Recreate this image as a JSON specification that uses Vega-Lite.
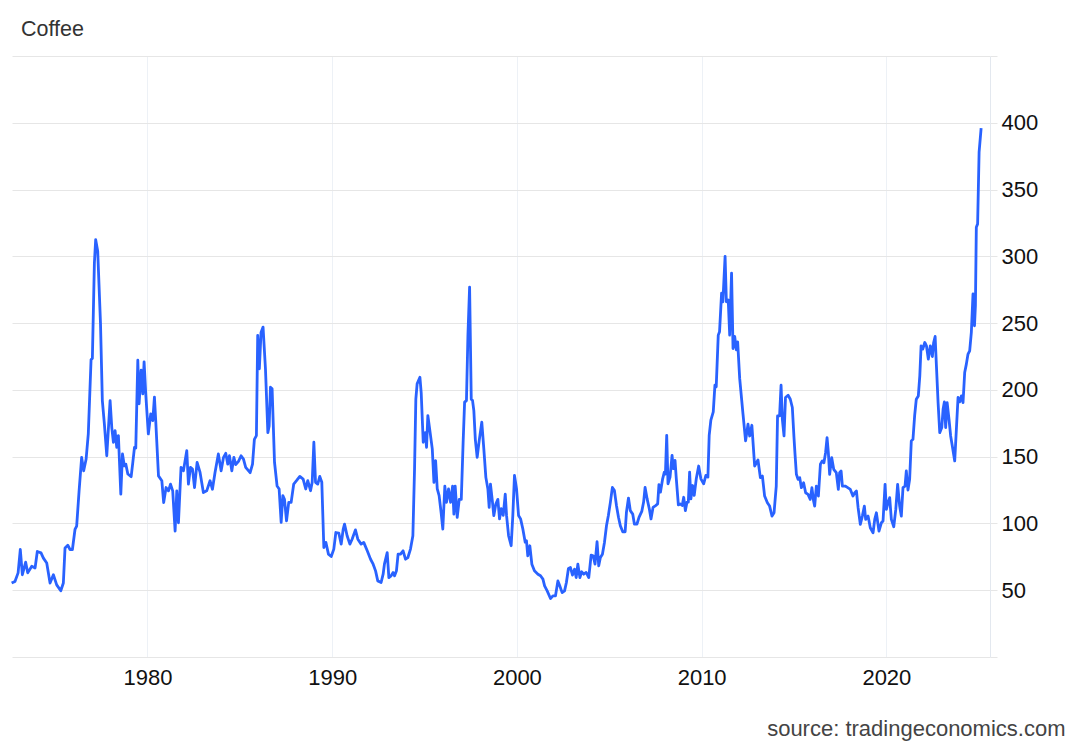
{
"$schema": "https://vega.github.io/schema/vega-lite/v6.json",
"width": 978, "height": 601,
"autosize": {"type": "none"},
"padding": {"left": 12, "top": 56, "right": 90, "bottom": 92},
"background": "white",
"config": {"view": {"stroke": null}, "font": "Liberation Sans"},
"title": {"text": "Coffee", "anchor": "start", "frame": "group", "dx": 9, "offset": -2, "baseline": "alphabetic", "font": "Liberation Sans", "fontSize": 21.5, "fontWeight": "normal", "color": "#333333"},
"data": {"values": [
{"t":1972.65,"v":55.4},{"t":1972.83,"v":56.6},{"t":1973.0,"v":63},{"t":1973.12,"v":80.5},{"t":1973.23,"v":61.6},{"t":1973.41,"v":71},{"t":1973.52,"v":63},{"t":1973.74,"v":68},{"t":1973.92,"v":66.7},{"t":1974.04,"v":79},{"t":1974.24,"v":78},{"t":1974.37,"v":74},{"t":1974.55,"v":70.4},{"t":1974.73,"v":55.4},{"t":1974.91,"v":61.6},{"t":1975.09,"v":54},{"t":1975.31,"v":49.6},{"t":1975.45,"v":55.4},{"t":1975.54,"v":81.7},{"t":1975.69,"v":83.7},{"t":1975.81,"v":80.5},{"t":1975.94,"v":80.5},{"t":1976.08,"v":95.5},{"t":1976.17,"v":98},{"t":1976.30,"v":124},{"t":1976.44,"v":149.5},{"t":1976.55,"v":139.4},{"t":1976.68,"v":148},{"t":1976.80,"v":167},{"t":1976.95,"v":222.7},{"t":1977.02,"v":223.5},{"t":1977.13,"v":295},{"t":1977.20,"v":312.5},{"t":1977.31,"v":303.8},{"t":1977.46,"v":250},{"t":1977.56,"v":192},{"t":1977.67,"v":174.5},{"t":1977.80,"v":150.7},{"t":1977.98,"v":192},{"t":1978.07,"v":172},{"t":1978.16,"v":160.8},{"t":1978.25,"v":169.5},{"t":1978.34,"v":157},{"t":1978.43,"v":165.8},{"t":1978.56,"v":121.9},{"t":1978.65,"v":152},{"t":1978.75,"v":143.2},{"t":1978.83,"v":144.4},{"t":1978.94,"v":137},{"t":1979.12,"v":135},{"t":1979.21,"v":145.7},{"t":1979.30,"v":157},{"t":1979.37,"v":156.5},{"t":1979.48,"v":222.2},{"t":1979.55,"v":189.6},{"t":1979.66,"v":214.7},{"t":1979.75,"v":197},{"t":1979.82,"v":221},{"t":1979.91,"v":197},{"t":1980.05,"v":167},{"t":1980.18,"v":182},{"t":1980.29,"v":177},{"t":1980.38,"v":194.6},{"t":1980.45,"v":177},{"t":1980.60,"v":135.6},{"t":1980.78,"v":132},{"t":1980.88,"v":115.6},{"t":1981.01,"v":126.9},{"t":1981.14,"v":124.4},{"t":1981.25,"v":129.4},{"t":1981.37,"v":124.4},{"t":1981.50,"v":94.3},{"t":1981.59,"v":124.4},{"t":1981.68,"v":100.5},{"t":1981.82,"v":142},{"t":1981.95,"v":139.4},{"t":1982.13,"v":154.5},{"t":1982.22,"v":129.4},{"t":1982.33,"v":142},{"t":1982.44,"v":140.7},{"t":1982.55,"v":126.9},{"t":1982.69,"v":145.7},{"t":1982.85,"v":138.2},{"t":1983.03,"v":123.1},{"t":1983.21,"v":124.4},{"t":1983.39,"v":132},{"t":1983.52,"v":125.6},{"t":1983.66,"v":138.2},{"t":1983.84,"v":152},{"t":1983.99,"v":139.4},{"t":1984.12,"v":149.5},{"t":1984.24,"v":152.5},{"t":1984.35,"v":144.4},{"t":1984.44,"v":150.7},{"t":1984.57,"v":139.4},{"t":1984.68,"v":149.5},{"t":1984.78,"v":144},{"t":1984.93,"v":146.5},{"t":1985.07,"v":150.7},{"t":1985.20,"v":148.2},{"t":1985.32,"v":142},{"t":1985.56,"v":138},{"t":1985.69,"v":144.4},
{"t":1985.79,"v":163},{"t":1985.90,"v":165.8},{"t":1985.97,"v":240.8},{"t":1986.06,"v":215.8},{"t":1986.15,"v":243},{"t":1986.26,"v":247},{"t":1986.39,"v":215.8},{"t":1986.52,"v":168},{"t":1986.59,"v":173},{"t":1986.66,"v":202},{"t":1986.75,"v":200.8},{"t":1986.88,"v":145.8},{"t":1987.02,"v":128},{"t":1987.13,"v":125.8},{"t":1987.24,"v":100.8},{"t":1987.33,"v":120.8},{"t":1987.42,"v":118},{"t":1987.53,"v":102},{"t":1987.65,"v":115.8},{"t":1987.78,"v":115.8},{"t":1987.92,"v":129.5},{"t":1988.07,"v":132},{"t":1988.25,"v":135.2},{"t":1988.43,"v":133.2},{"t":1988.57,"v":125.8},{"t":1988.68,"v":132},{"t":1988.83,"v":124.5},{"t":1988.92,"v":130.8},{"t":1989.01,"v":160.8},{"t":1989.10,"v":130.8},{"t":1989.22,"v":129.5},{"t":1989.33,"v":135.2},{"t":1989.44,"v":130.8},{"t":1989.55,"v":82},{"t":1989.66,"v":85.8},{"t":1989.80,"v":77},{"t":1989.95,"v":75.2},{"t":1990.09,"v":80.8},{"t":1990.20,"v":93.2},{"t":1990.36,"v":92.8},{"t":1990.49,"v":84.5},{"t":1990.60,"v":95.8},{"t":1990.67,"v":99.5},{"t":1990.81,"v":90.8},{"t":1990.96,"v":84.5},{"t":1991.08,"v":88.2},{"t":1991.26,"v":95.2},{"t":1991.39,"v":88.2},{"t":1991.57,"v":84.5},{"t":1991.71,"v":85.8},{"t":1991.90,"v":79.5},{"t":1992.08,"v":73.2},{"t":1992.22,"v":69.5},{"t":1992.35,"v":64.5},{"t":1992.47,"v":57},{"t":1992.65,"v":55.8},{"t":1992.76,"v":62},{"t":1992.83,"v":69.5},{"t":1992.98,"v":78.2},{"t":1993.07,"v":59.5},{"t":1993.19,"v":60.8},{"t":1993.30,"v":63.2},{"t":1993.38,"v":60.8},{"t":1993.48,"v":64.5},{"t":1993.57,"v":77},{"t":1993.70,"v":77},{"t":1993.84,"v":79.5},{"t":1993.97,"v":73.2},{"t":1994.10,"v":74.5},{"t":1994.24,"v":80.8},{"t":1994.37,"v":90.8},{"t":1994.46,"v":140.8},{"t":1994.53,"v":193},{"t":1994.60,"v":204.5},{"t":1994.75,"v":209.5},{"t":1994.82,"v":198},{"t":1994.93,"v":160.8},{"t":1995.04,"v":168},{"t":1995.11,"v":157},{"t":1995.18,"v":180.8},{"t":1995.29,"v":169.5},{"t":1995.42,"v":155.8},{"t":1995.51,"v":130.8},{"t":1995.60,"v":147},{"t":1995.69,"v":125.8},{"t":1995.79,"v":120.8},{"t":1995.90,"v":108},{"t":1995.99,"v":95.8},{"t":1996.10,"v":128},{"t":1996.19,"v":115.8},{"t":1996.30,"v":125.8},{"t":1996.41,"v":115.8},{"t":1996.52,"v":128},{"t":1996.59,"v":107},{"t":1996.66,"v":128},{"t":1996.77,"v":104.5},{"t":1996.88,"v":118},{"t":1996.99,"v":118},{"t":1997.09,"v":160.8},{"t":1997.17,"v":190.8},{"t":1997.27,"v":192},{"t":1997.35,"v":240.8},{"t":1997.44,"v":277},{"t":1997.53,"v":193},{"t":1997.60,"v":192},{"t":1997.67,"v":184.5},{"t":1997.75,"v":163},{"t":1997.85,"v":149.5},{"t":1997.96,"v":162},{"t":1998.10,"v":175.8},{"t":1998.21,"v":155.8},{"t":1998.32,"v":134.5},{"t":1998.43,"v":125.8},{"t":1998.50,"v":112},{"t":1998.57,"v":129.5},{"t":1998.68,"v":115.8},{"t":1998.75,"v":105.8},{"t":1998.86,"v":114.5},{"t":1998.97,"v":118},
{"t":1999.06,"v":103.4},{"t":1999.15,"v":111},{"t":1999.26,"v":106},{"t":1999.37,"v":122},{"t":1999.44,"v":106},{"t":1999.55,"v":90.8},{"t":1999.69,"v":83.3},{"t":1999.78,"v":106},{"t":1999.87,"v":136},{"t":1999.98,"v":126},{"t":2000.09,"v":106},{"t":2000.20,"v":103.4},{"t":2000.32,"v":96},{"t":2000.45,"v":86},{"t":2000.52,"v":87},{"t":2000.59,"v":75.8},{"t":2000.70,"v":83.3},{"t":2000.81,"v":69.5},{"t":2000.95,"v":64.5},{"t":2001.14,"v":62},{"t":2001.28,"v":60.8},{"t":2001.41,"v":58.3},{"t":2001.50,"v":53.3},{"t":2001.64,"v":49.5},{"t":2001.82,"v":43.8},{"t":2001.95,"v":45.8},{"t":2002.09,"v":45.8},{"t":2002.22,"v":57},{"t":2002.32,"v":53.3},{"t":2002.45,"v":48.2},{"t":2002.58,"v":49.5},{"t":2002.68,"v":55.8},{"t":2002.79,"v":66.3},{"t":2002.90,"v":67},{"t":2003.01,"v":61.3},{"t":2003.12,"v":65.8},{"t":2003.21,"v":59.5},{"t":2003.30,"v":69.5},{"t":2003.41,"v":59.5},{"t":2003.51,"v":63.8},{"t":2003.62,"v":62},{"t":2003.75,"v":63.3},{"t":2003.89,"v":59.5},{"t":2004.02,"v":76.3},{"t":2004.13,"v":75.8},{"t":2004.23,"v":69.5},{"t":2004.34,"v":86.3},{"t":2004.43,"v":68.3},{"t":2004.52,"v":74.5},{"t":2004.63,"v":77},{"t":2004.74,"v":85.8},{"t":2004.85,"v":98.3},{"t":2004.95,"v":105.8},{"t":2005.06,"v":115.8},{"t":2005.17,"v":127},{"t":2005.28,"v":124.6},{"t":2005.39,"v":113.4},{"t":2005.50,"v":104.6},{"t":2005.60,"v":98.3},{"t":2005.73,"v":93.8},{"t":2005.86,"v":93.8},{"t":2005.93,"v":108.4},{"t":2006.04,"v":119},{"t":2006.14,"v":109.6},{"t":2006.27,"v":107},{"t":2006.36,"v":99.6},{"t":2006.50,"v":99.6},{"t":2006.61,"v":104.6},{"t":2006.76,"v":109},{"t":2006.86,"v":116},{"t":2006.94,"v":127},{"t":2007.05,"v":118.4},{"t":2007.17,"v":110.8},{"t":2007.26,"v":103.4},{"t":2007.37,"v":112},{"t":2007.51,"v":113.4},{"t":2007.62,"v":114.6},{"t":2007.69,"v":129},{"t":2007.77,"v":123.4},{"t":2007.89,"v":133.4},{"t":2007.98,"v":138.4},{"t":2008.04,"v":137},{"t":2008.11,"v":166},{"t":2008.18,"v":129.7},{"t":2008.29,"v":134.7},{"t":2008.40,"v":151},{"t":2008.47,"v":141},{"t":2008.56,"v":147.2},{"t":2008.63,"v":133.4},{"t":2008.74,"v":113.9},{"t":2008.85,"v":114.6},{"t":2008.95,"v":113.4},{"t":2009.03,"v":119.6},{"t":2009.12,"v":109.6},{"t":2009.21,"v":116},{"t":2009.28,"v":116},{"t":2009.35,"v":138.4},{"t":2009.42,"v":118.4},{"t":2009.51,"v":128.4},{"t":2009.60,"v":121},{"t":2009.71,"v":133.4},{"t":2009.84,"v":143},{"t":2009.96,"v":133.4},{"t":2010.11,"v":129.7},{"t":2010.23,"v":136},{"t":2010.34,"v":134.7},{"t":2010.41,"v":166},{"t":2010.50,"v":177.3},{"t":2010.63,"v":183.5},{"t":2010.72,"v":203.6},{"t":2010.79,"v":202.3},{"t":2010.90,"v":241},{"t":2010.97,"v":243.6},{"t":2011.08,"v":272.4},{"t":2011.15,"v":266},{"t":2011.27,"v":300},{"t":2011.34,"v":266},{"t":2011.44,"v":267.4},{"t":2011.52,"v":241},{"t":2011.62,"v":287.5},{"t":2011.70,"v":231},{"t":2011.79,"v":240},{"t":2011.88,"v":230},{"t":2011.95,"v":236},{"t":2012.06,"v":208.6},
{"t":2012.24,"v":181.8},{"t":2012.38,"v":161.8},{"t":2012.51,"v":174.3},{"t":2012.60,"v":165.5},{"t":2012.72,"v":173.5},{"t":2012.87,"v":143},{"t":2013.05,"v":147.5},{"t":2013.18,"v":134.3},{"t":2013.29,"v":135.5},{"t":2013.41,"v":120.5},{"t":2013.56,"v":115.5},{"t":2013.68,"v":113},{"t":2013.81,"v":105.5},{"t":2013.92,"v":108},{"t":2014.04,"v":128},{"t":2014.11,"v":180.5},{"t":2014.22,"v":180.5},{"t":2014.30,"v":203.5},{"t":2014.37,"v":178},{"t":2014.46,"v":165.5},{"t":2014.54,"v":194.3},{"t":2014.68,"v":196},{"t":2014.80,"v":193},{"t":2014.91,"v":186.8},{"t":2015.00,"v":164.3},{"t":2015.05,"v":153},{"t":2015.13,"v":136.8},{"t":2015.22,"v":133},{"t":2015.31,"v":134.3},{"t":2015.40,"v":126.8},{"t":2015.52,"v":130.5},{"t":2015.63,"v":123},{"t":2015.76,"v":121.8},{"t":2015.88,"v":118},{"t":2015.97,"v":126.8},{"t":2016.06,"v":116.8},{"t":2016.12,"v":113},{"t":2016.21,"v":128},{"t":2016.32,"v":120.5},{"t":2016.43,"v":144.3},{"t":2016.53,"v":146.8},{"t":2016.62,"v":145.5},{"t":2016.71,"v":153},{"t":2016.79,"v":164.3},{"t":2016.86,"v":153},{"t":2016.93,"v":136.8},{"t":2017.04,"v":149.3},{"t":2017.15,"v":140.5},{"t":2017.29,"v":138},{"t":2017.40,"v":125.5},{"t":2017.47,"v":138},{"t":2017.55,"v":139.3},{"t":2017.62,"v":128},{"t":2017.77,"v":128},{"t":2017.91,"v":126.8},{"t":2018.05,"v":125.5},{"t":2018.19,"v":120.5},{"t":2018.29,"v":123},{"t":2018.38,"v":124.3},{"t":2018.47,"v":111.8},{"t":2018.59,"v":99.3},{"t":2018.70,"v":105.5},{"t":2018.81,"v":113},{"t":2018.88,"v":103},{"t":2019.01,"v":105.5},{"t":2019.13,"v":96.8},{"t":2019.28,"v":93},{"t":2019.37,"v":103},{"t":2019.46,"v":108},{"t":2019.60,"v":94.3},{"t":2019.73,"v":100.5},{"t":2019.82,"v":101.8},{"t":2019.93,"v":129.3},{"t":2020.00,"v":110.5},{"t":2020.09,"v":115.5},{"t":2020.18,"v":119.3},{"t":2020.27,"v":103},{"t":2020.40,"v":97.5},{"t":2020.51,"v":110.5},{"t":2020.61,"v":129.3},{"t":2020.72,"v":113},{"t":2020.81,"v":105.5},{"t":2020.90,"v":126.8},{"t":2021.01,"v":128},{"t":2021.08,"v":139.3},{"t":2021.17,"v":125},{"t":2021.26,"v":133},{"t":2021.35,"v":161.8},{"t":2021.44,"v":163},{"t":2021.53,"v":180.5},{"t":2021.62,"v":193},{"t":2021.73,"v":195.5},{"t":2021.81,"v":210.5},{"t":2021.88,"v":233},{"t":2021.97,"v":230.5},{"t":2022.08,"v":235.5},{"t":2022.17,"v":233},{"t":2022.27,"v":223},{"t":2022.38,"v":233},{"t":2022.49,"v":225},{"t":2022.56,"v":235.5},{"t":2022.64,"v":240},{"t":2022.71,"v":218},{"t":2022.80,"v":190.5},{"t":2022.89,"v":168},{"t":2023.00,"v":171.8},{"t":2023.07,"v":185.5},{"t":2023.14,"v":191},{"t":2023.21,"v":171.8},{"t":2023.29,"v":190.5},{"t":2023.39,"v":178},{"t":2023.48,"v":165.5},{"t":2023.57,"v":158},{"t":2023.70,"v":146.8},{"t":2023.79,"v":170.5},{"t":2023.88,"v":194.3},{"t":2023.97,"v":191},{"t":2024.06,"v":195.5},{"t":2024.15,"v":190.5},{"t":2024.24,"v":213},{"t":2024.33,"v":219.3},{"t":2024.42,"v":226.8},{"t":2024.51,"v":229.3},{"t":2024.60,"v":243},{"t":2024.69,"v":271.8},{"t":2024.77,"v":248},{"t":2024.82,"v":263},{"t":2024.87,"v":321.8},{"t":2024.94,"v":324.3},{"t":2025.02,"v":378},{"t":2025.13,"v":396}
]},
"mark": {"type": "line", "color": "#2962ff", "strokeWidth": 2.8, "strokeJoin": "round"},
"encoding": {
  "x": {"field": "t", "type": "quantitative",
    "scale": {"domain": [1972.67, 2025.61], "nice": false, "zero": false},
    "axis": {"values": [1980, 1990, 2000, 2010, 2020], "format": "d", "grid": true, "gridColor": "#edf1f6", "gridWidth": 1, "domain": false, "ticks": false,
      "labelFont": "Liberation Sans", "labelFontSize": 22, "labelColor": "#111111", "labelPadding": 10,
      "title": "source: tradingeconomics.com", "titleFont": "Liberation Sans", "titleFontSize": 22, "titleFontWeight": "normal", "titleColor": "#444444",
      "titleAlign": "right", "titleBaseline": "alphabetic", "titleX": 1053, "titleY": 78}},
  "y": {"field": "v", "type": "quantitative",
    "scale": {"domain": [0, 450], "nice": false},
    "axis": {"orient": "right", "values": [0, 50, 100, 150, 200, 250, 300, 350, 400, 450],
      "labelExpr": "datum.value == 0 || datum.value == 450 ? '' : datum.label",
      "grid": true, "gridColor": "#e6e6e6", "gridWidth": 1, "domainColor": "#e3e8ef", "tickColor": "#e6e6e6", "tickSize": 7,
      "labelFont": "Liberation Sans", "labelFontSize": 22, "labelColor": "#111111", "labelPadding": 4, "title": null}}
}
}
